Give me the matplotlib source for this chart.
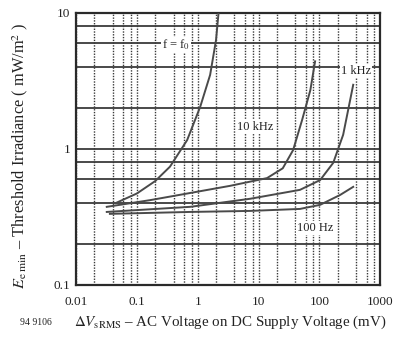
import matplotlib
matplotlib.use("Agg")
import matplotlib.pyplot as plt
import numpy as np

# curves: AC ripple (mV) vs threshold irradiance (mW/m^2)
f0_x = [0.045, 0.1, 0.2, 0.35, 0.67, 1.1, 1.6, 2.0, 2.2]
f0_y = [0.40, 0.47, 0.58, 0.74, 1.16, 2.04, 3.5, 6.3, 10.0]

khz10_x = [0.032, 0.165, 0.75, 3.4, 13.8, 25, 37, 52, 71, 85]
khz10_y = [0.375, 0.42, 0.474, 0.535, 0.61, 0.72, 0.98, 1.63, 2.7, 4.4]

khz1_x = [0.032, 0.75, 7.3, 48, 103, 169, 246, 360]
khz1_y = [0.344, 0.375, 0.43, 0.50, 0.59, 0.79, 1.27, 2.96]

hz100_x = [0.036, 0.75, 7.3, 48, 103, 220, 360]
hz100_y = [0.333, 0.344, 0.35, 0.362, 0.388, 0.459, 0.526]

x_ticks = [0.01, 0.1, 1, 10, 100, 1000]
x_labels = ["0.01", "0.1", "1", "10", "100", "1000"]
y_ticks = [0.1, 1, 10]
y_labels = ["0.1", "1", "10"]

curve_labels = [
    (0.44, 5.8, "f = f$_0$"),
    (400, 3.75, "1 kHz"),
    (8.8, 1.45, "10 kHz"),
    (85, 0.262, "100 Hz"),
]

plt.rcParams["font.family"] = ["Liberation Serif", "DejaVu Serif"]
plt.rcParams["mathtext.fontset"] = "stix"

ink = "#3a3a3a"

fig = plt.figure(figsize=(3.94, 3.38), dpi=100, facecolor="white")
ax = fig.add_axes([0.193, 0.157, 0.772, 0.805])
ax.set_xscale("log")
ax.set_yscale("log")
ax.set_xlim(0.01, 1000)
ax.set_ylim(0.1, 10)

minor_x = [m * 10.0 ** d for d in range(-2, 3) for m in (2, 4, 6, 8)]
minor_y = [m * 10.0 ** d for d in range(-1, 1) for m in (2, 4, 6, 8)]
ax.set_xticks(x_ticks)
ax.set_xticklabels(x_labels)
ax.set_yticks(y_ticks)
ax.set_yticklabels(y_labels)
ax.set_xticks(minor_x, minor=True)
ax.set_yticks(minor_y, minor=True)
ax.xaxis.set_minor_formatter(matplotlib.ticker.NullFormatter())
ax.yaxis.set_minor_formatter(matplotlib.ticker.NullFormatter())
ax.tick_params(which="both", length=0, labelsize=9.5, colors="#222222")
ax.tick_params(axis="x", pad=8)
ax.tick_params(axis="y", pad=4)

ax.grid(True, axis="x", which="both", color=ink, linestyle=(0, (1, 1)), linewidth=1.0)
ax.grid(True, axis="y", which="both", color=ink, linestyle="-", linewidth=1.3)
for spine in ax.spines.values():
    spine.set_linewidth(1.6)
    spine.set_color("#2a2a2a")

for xs, ys in [(f0_x, f0_y), (khz10_x, khz10_y), (khz1_x, khz1_y), (hz100_x, hz100_y)]:
    ax.plot(xs, ys, color="#4a4a4a", linewidth=1.4, zorder=3)

for x, y, text in curve_labels:
    ax.text(x, y, text, fontsize=9, color="#222222", ha="center", va="center",
            zorder=4, bbox=dict(facecolor="white", edgecolor="none", pad=0.5))

fig.text(0.05, 0.54, r"$E_{\rm e\ min}$ – Threshold Irradiance ( mW/m$^2$ )",
         rotation=90, ha="center", va="center", fontsize=11.8, color="#222222")
fig.text(0.188, 0.045, r"$\Delta V_{\rm sRMS}$ – AC Voltage on DC Supply Voltage (mV)",
         ha="left", va="center", fontsize=10.8, color="#222222")
fig.text(0.05, 0.045, "94 9106", ha="left", va="center", fontsize=7, color="#222222")

fig.savefig("out.png", dpi=100, facecolor="white")
